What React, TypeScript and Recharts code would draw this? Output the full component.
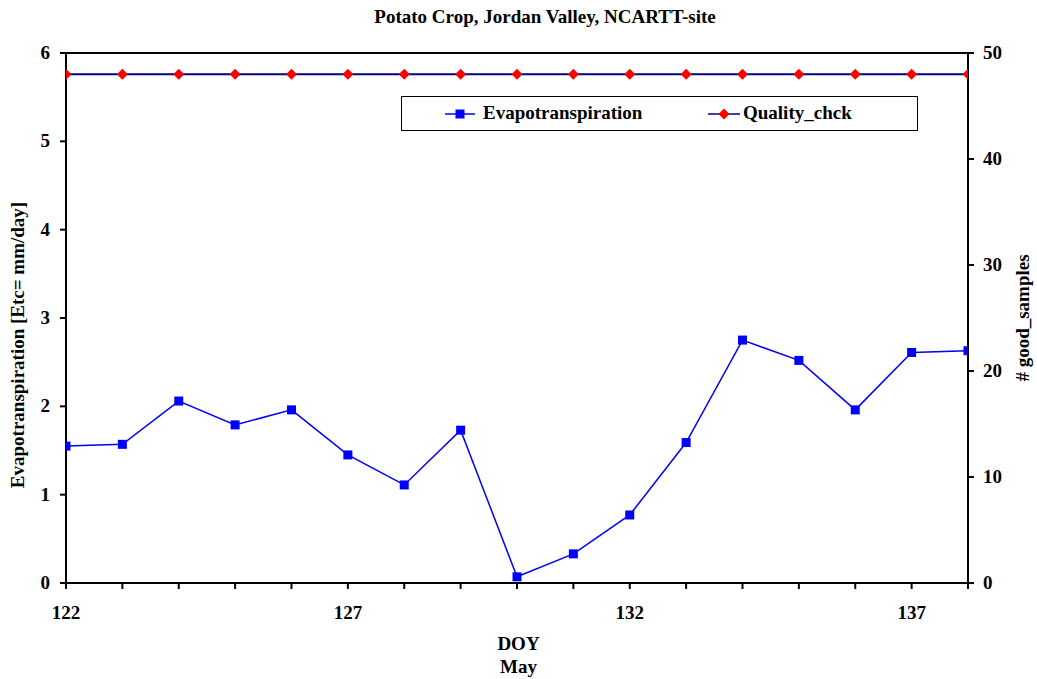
import { LineChart, Line, XAxis, YAxis, ReferenceLine } from "recharts";

const days = [122, 123, 124, 125, 126, 127, 128, 129, 130, 131, 132, 133, 134, 135, 136, 137, 138];
const evapotranspiration = [1.55, 1.57, 2.06, 1.79, 1.96, 1.45, 1.11, 1.73, 0.07, 0.33, 0.77, 1.59, 2.75, 2.52, 1.96, 2.61, 2.63];
const qualityChck = [48, 48, 48, 48, 48, 48, 48, 48, 48, 48, 48, 48, 48, 48, 48, 48, 48];
const xLabels = [122, 127, 132, 137];
const leftTicks = [0, 1, 2, 3, 4, 5, 6];
const rightTicks = [0, 10, 20, 30, 40, 50];

const data = days.map((d, i) => ({
  doy: d,
  et: evapotranspiration[i],
  q: qualityChck[i],
}));

const FONT = "Liberation Serif, DejaVu Serif, serif";
const FS = 19;

function XTick(props: any) {
  const { x, y, payload } = props;
  if (!xLabels.includes(payload.value)) return null;
  return (
    <text x={x} y={y + 28} textAnchor="middle" fontFamily={FONT} fontWeight={700} fontSize={FS} fill="#000">
      {payload.value}
    </text>
  );
}

function YTick(props: any) {
  const { x, y, payload, textAnchor } = props;
  return (
    <text x={x} y={y + 6} textAnchor={textAnchor} fontFamily={FONT} fontWeight={700} fontSize={FS} fill="#000">
      {payload.value}
    </text>
  );
}

function SquareDot(props: any) {
  const { cx, cy } = props;
  if (cx == null || cy == null) return null;
  return <rect x={cx - 4.5} y={cy - 4.5} width={9} height={9} fill="#0000ff" />;
}

function DiamondDot(props: any) {
  const { cx, cy } = props;
  if (cx == null || cy == null) return null;
  return (
    <polygon
      points={`${cx},${cy - 5.5} ${cx + 5.5},${cy} ${cx},${cy + 5.5} ${cx - 5.5},${cy}`}
      fill="#ff0000"
    />
  );
}

function LegendBox() {
  return (
    <div
      style={{
        position: "absolute",
        left: 401,
        top: 96,
        width: 517,
        height: 35,
        border: "1px solid #000",
        boxSizing: "border-box",
        background: "#fff",
        fontFamily: FONT,
        fontWeight: 700,
        fontSize: FS,
      }}
    >
      <svg width={40} height={20} style={{ position: "absolute", left: 42, top: 7 }}>
        <line x1={1} y1={10} x2={31} y2={10} stroke="#0000ff" strokeWidth={1.5} />
        <rect x={11.5} y={5.5} width={9} height={9} fill="#0000ff" />
      </svg>
      <span style={{ position: "absolute", left: 81, top: 5 }}>Evapotranspiration</span>
      <svg width={40} height={20} style={{ position: "absolute", left: 305, top: 7 }}>
        <line x1={1} y1={10} x2={33} y2={10} stroke="#000080" strokeWidth={1.5} />
        <polygon points="17,4.5 22.5,10 17,15.5 11.5,10" fill="#ff0000" />
      </svg>
      <span style={{ position: "absolute", left: 341, top: 5 }}>Quality_chck</span>
    </div>
  );
}

export default function App() {
  return (
    <div style={{ position: "absolute", left: 0, top: 0, width: 1037, height: 679, background: "#fff" }}>
      <div
        style={{
          position: "absolute",
          left: 54,
          top: 6,
          width: 982,
          textAlign: "center",
          fontFamily: FONT,
          fontWeight: 700,
          fontSize: FS,
        }}
      >
        Potato Crop, Jordan Valley, NCARTT-site
      </div>
      <LineChart
        width={1037}
        height={679}
        data={data}
        margin={{ top: 53, right: 0, left: 0, bottom: 66 }}
      >
        <XAxis
          dataKey="doy"
          type="number"
          domain={[122, 138]}
          ticks={days}
          interval={0}
          tick={<XTick />}
          tickSize={6}
          tickMargin={2}
          height={30}
          stroke="#000"
          strokeWidth={2}
          allowDataOverflow
        />
        <YAxis
          yAxisId="left"
          domain={[0, 6]}
          ticks={leftTicks}
          interval={0}
          width={66}
          tick={<YTick />}
          tickSize={6}
          tickMargin={10}
          stroke="#000"
          strokeWidth={2}
          label={{
            content: () => (
              <text
                x={24}
                y={345}
                transform="rotate(-90 24 345)"
                textAnchor="middle"
                fontFamily={FONT}
                fontWeight={700}
                fontSize={FS}
                fill="#000"
              >
                Evapotranspiration [Etc= mm/day]
              </text>
            ),
          }}
        />
        <YAxis
          yAxisId="right"
          orientation="right"
          domain={[0, 50]}
          ticks={rightTicks}
          interval={0}
          width={69}
          tick={<YTick />}
          tickSize={6}
          tickMargin={9}
          stroke="#000"
          strokeWidth={2}
          label={{
            content: () => (
              <text
                x={1029}
                y={318}
                transform="rotate(-90 1029 318)"
                textAnchor="middle"
                fontFamily={FONT}
                fontWeight={700}
                fontSize={FS}
                fill="#000"
              >
                # good_samples
              </text>
            ),
          }}
        />
        <ReferenceLine yAxisId="left" y={6} stroke="#000" strokeWidth={2} />
        <Line
          yAxisId="right"
          dataKey="q"
          name="Quality_chck"
          stroke="#000080"
          strokeWidth={2}
          dot={<DiamondDot />}
          activeDot={false}
          isAnimationActive={false}
        />
        <Line
          yAxisId="left"
          dataKey="et"
          name="Evapotranspiration"
          stroke="#0000ff"
          strokeWidth={1.5}
          dot={<SquareDot />}
          activeDot={false}
          isAnimationActive={false}
        />
      </LineChart>
      <LegendBox />
      <div
        style={{
          position: "absolute",
          left: 0,
          top: 632,
          width: 1037,
          textAlign: "center",
          fontFamily: FONT,
          fontWeight: 700,
          fontSize: FS,
          lineHeight: "23px",
        }}
      >
        DOY
        <br />
        May
      </div>
    </div>
  );
}
